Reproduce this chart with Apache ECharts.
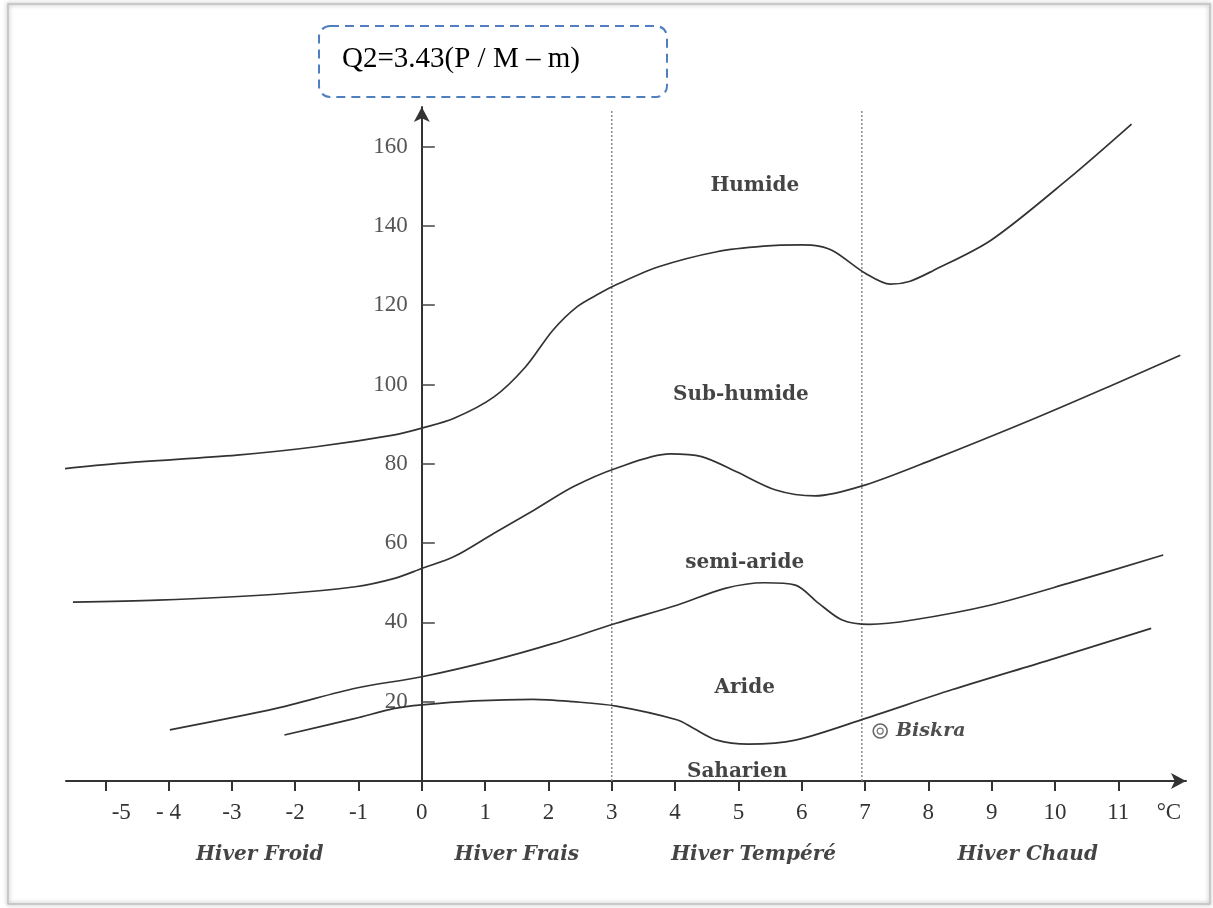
<!DOCTYPE html>
<html><head><meta charset="utf-8">
<script src="https://cdn.jsdelivr.net/npm/echarts@6/dist/echarts.min.js"></script>
<style>html,body{margin:0;padding:0;background:#fff}#c{width:1213px;height:908px}</style>
</head><body><div id="c"></div>
<script>
// ---- data ----
const xTicks = [-5,-4,-3,-2,-1,0,1,2,3,4,5,6,7,8,9,10,11];
const unitLabelAt = 11.8;
const yTicks = [20,40,60,80,100,120,140,160];

const humideLimit = [[-6.23,77.8],[-4.79,80.1],[-2.92,82.2],[-1.67,84.3],[-0.43,87.3],[0,89.0],[0.51,91.5],[1.14,96.9],[1.64,104.5],[2.07,113.7],[2.45,119.6],[2.81,123.0],[3.06,125.1],[3.74,129.7],[4.66,133.5],[5.40,134.9],[6.0,135.2],[6.27,134.9],[6.52,133.5],[7.01,128.0],[7.4,125.3],[7.7,126.0],[8.06,128.6],[8.99,136.4],[10.22,152.0],[11.21,165.7]];
const subHumideLimit = [[-5.51,45.1],[-4.17,45.6],[-2.30,47.1],[-1.05,49.0],[-0.43,51.1],[0,53.6],[0.51,56.6],[1.14,62.5],[1.77,68.3],[2.39,74.2],[3.07,78.9],[3.92,82.5],[4.42,81.8],[4.97,78.0],[5.59,73.4],[6.21,71.9],[7.01,74.7],[8.06,81.0],[9.61,91.0],[10.84,99.4],[11.98,107.4]];
const semiAridLimit = [[-3.98,12.9],[-2.30,18.3],[-1.05,23.4],[0,26.3],[1.14,30.5],[2.08,34.7],[3.07,39.8],[4.04,44.4],[4.79,48.6],[5.41,50.0],[5.90,49.4],[6.27,44.8],[6.64,40.6],[7.07,39.5],[7.75,40.6],[8.99,44.4],[10.22,49.9],[11.71,57.0]];
const aridLimit = [[-2.17,11.6],[-1.05,15.8],[-0.43,18.3],[0,19.2],[0.83,20.2],[1.76,20.6],[2.39,20.0],[3.07,18.9],[4.04,15.4],[4.29,13.3],[4.66,10.3],[5.16,9.3],[5.90,10.3],[7.01,15.8],[8.37,23.0],[9.91,30.5],[11.52,38.5]];

const winterBounds = [3, 6.95];
const winterBoundTop = 169;

const zoneNames = ['Humide','Sub-humide','semi-aride','Aride','Saharien'];
const zonePos = [[5.26,150.1],[5.04,97.4],[5.10,55.0],[5.10,23.5],[4.98,2.3]];

const winterNames = ['Hiver Froid','Hiver Frais','Hiver Tempéré','Hiver Chaud'];
const winterX = [-2.56,1.5,5.24,9.57];

const stationName = 'Biskra';
const stationPos = [7.24,12.6];

const formula = 'Q2=3.43(P / M – m)';

// ---- chart ----
const serif = 'Liberation Serif';
const lineCol = '#333';
const xMin = -5.62, xMax = 12.07;
const gridLeft = 66, gridRight = 27, chartW = 1213;
const plotW = chartW - gridLeft - gridRight;
const yAxisOffset = -(0 - xMin) / (xMax - xMin) * plotW;

const chart = echarts.init(document.getElementById('c'), null, {renderer:'canvas'});

const curve = (name, data) => ({
  name, type:'line', data, smooth:0.3, showSymbol:false, symbol:'none', clip:false,
  lineStyle:{color:lineCol, width:1.7}, z:3
});

const option = {
  animation:false,
  backgroundColor:'#fff',
  grid:{left:gridLeft, right:gridRight, top:107, bottom:127, containLabel:false},
  xAxis:{
    type:'value', min:xMin, max:xMax,
    axisLine:{show:true, onZero:false, symbol:['none','arrow'], symbolSize:[12,15], lineStyle:{color:'#333', width:2}},
    axisTick:{show:true, customValues:xTicks, length:10, lineStyle:{color:'#333', width:2}},
    axisLabel:{
      customValues:xTicks.concat([unitLabelAt]), margin:20,
      fontFamily:serif, fontSize:23, color:'#333',
      formatter:function(v){
        if (v > 11.5) return '°C';
        if (v === -4) return '- 4';
        if (v === -5) return '{s|-5}';
        return String(v);
      },
      rich:{s:{fontFamily:serif, fontSize:23, color:'#333', padding:[0,0,0,32]}}
    },
    splitLine:{show:false}
  },
  yAxis:{
    type:'value', min:0, max:170, position:'left', offset:yAxisOffset,
    axisLine:{show:true, onZero:false, symbol:['none','arrow'], symbolSize:[12,15], lineStyle:{color:'#333', width:2}},
    axisTick:{show:true, inside:true, customValues:yTicks, length:13, lineStyle:{color:'#444', width:1.5}},
    axisLabel:{customValues:yTicks, margin:14, fontFamily:serif, fontSize:23, color:'#555'},
    splitLine:{show:false}
  },
  graphic:[
    {type:'rect', z:-10, shape:{x:8, y:4, width:1202, height:900},
      style:{fill:'none', stroke:'#c0c0c0', lineWidth:1.5, shadowBlur:4, shadowColor:'rgba(0,0,0,0.4)'}},
    {type:'rect', z:10, shape:{x:319, y:26, width:348, height:71, r:11},
      style:{fill:'#fff', stroke:'#4f7fc1', lineWidth:2, lineDash:[9,6]}},
    {type:'text', z:11, x:342, y:59,
      style:{text:formula, font:'29px "Liberation Serif"', fill:'#000', verticalAlign:'middle', align:'left'}}
  ],
  series:[
    curve('humide', humideLimit),
    curve('subhumide', subHumideLimit),
    curve('semiaride', semiAridLimit),
    curve('aride', aridLimit),
    ...winterBounds.map(b => ({
      type:'line', data:[[b,0],[b,winterBoundTop]], showSymbol:false, symbol:'none',
      lineStyle:{color:'#8a8a8a', width:1.5, type:[2,2]}, z:2
    })),
    {
      type:'scatter', symbolSize:1, itemStyle:{color:'rgba(0,0,0,0)'}, z:5,
      data:zoneNames.map((n,i) => ({name:n, value:zonePos[i]})),
      label:{show:true, position:'inside', formatter:'{b}', fontFamily:'DejaVu Serif', fontWeight:'bold', fontSize:20, color:'#151515'}
    },
    {
      type:'scatter', symbolSize:1, itemStyle:{color:'rgba(0,0,0,0)'}, z:5,
      data:winterNames.map((n,i) => ({name:n, value:[winterX[i],0]})),
      label:{show:true, position:'inside', offset:[0,74], formatter:'{b}', fontFamily:'DejaVu Serif', fontWeight:'bold', fontStyle:'italic', fontSize:20, color:'#151515'}
    },
    {
      type:'scatter', symbol:'circle', symbolSize:14, z:5,
      itemStyle:{color:'rgba(0,0,0,0)', borderColor:'#444', borderWidth:1.6},
      data:[{name:stationName, value:stationPos}],
      label:{show:true, position:'right', distance:8, formatter:'{b}', fontFamily:'DejaVu Serif', fontWeight:'bold', fontStyle:'italic', fontSize:19, color:'#222'}
    },
    {
      type:'scatter', symbol:'circle', symbolSize:6, z:5,
      itemStyle:{color:'rgba(0,0,0,0)', borderColor:'#555', borderWidth:1.2},
      data:[stationPos]
    }
  ]
};
chart.setOption(option);
</script>
</body></html>
